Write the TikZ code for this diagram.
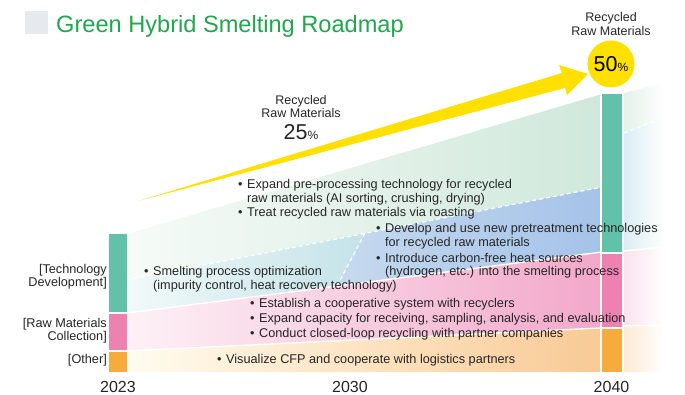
\documentclass[tikz,border=0pt]{standalone}
\usepackage{fontspec}
\setmainfont{Liberation Sans}
\usetikzlibrary{positioning}

\definecolor{txtgray}{HTML}{262626}
\definecolor{ttlgreen}{HTML}{1FA74C}
\definecolor{ttlbox}{HTML}{E6E9EE}
\definecolor{barteal}{HTML}{62C1A9}
\definecolor{barpink}{HTML}{ED82B1}
\definecolor{barorange}{HTML}{F6AC3C}
\definecolor{arrowyel}{HTML}{FFE000}
\definecolor{grnL}{HTML}{F6FBF8}
\definecolor{grnR}{HTML}{D0E8DB}
\definecolor{cyaL}{HTML}{F2F9FA}
\definecolor{cyaR}{HTML}{C3E3E8}
\definecolor{bluL}{HTML}{C6D9EF}
\definecolor{bluR}{HTML}{A5C3E8}
\definecolor{pnkL}{HTML}{FDF1F6}
\definecolor{pnkR}{HTML}{F2A8CA}
\definecolor{orgL}{HTML}{FFFCEF}
\definecolor{orgR}{HTML}{F8CA95}
\definecolor{grnX}{HTML}{E4F1EA}
\definecolor{bluX}{HTML}{DAEDF5}
\definecolor{pnkX}{HTML}{FBE2EE}
\definecolor{orgX}{HTML}{FDEAD4}

\newcommand{\bulletitem}[1]{\textbullet\hspace{4.5pt}\begin{tabular}[t]{@{}l@{}}#1\end{tabular}}

\begin{document}
\begin{tikzpicture}[x=1pt,y=-1pt,
    lbl/.style={font=\fontsize{12.7}{12.7}\selectfont, text=txtgray, inner sep=0pt},
    itemtxt/.style={lbl, anchor=base west},
    yearlbl/.style={font=\fontsize{16}{16}\selectfont, text=txtgray, inner sep=0pt, anchor=base},
    sepline/.style={white, line width=1.4pt},
    dashsep/.style={white, line width=1.2pt, dash pattern=on 4pt off 3pt}]

    \useasboundingbox (0,0) rectangle (685,395);

    % title
    \fill[ttlbox] (25,11) rectangle (48,34);
    \node[anchor=base west, inner sep=0pt, font=\fontsize{23.6}{24}\selectfont, text=ttlgreen] (title) at (56,33) {Green Hybrid Smelting Roadmap};

    % bands 2023 -> 2040
    \shade[left color=grnL, right color=grnR] (127,234) -- (600,94.6) -- (600,187.4) -- (127,280) -- cycle;
    \shade[left color=cyaL, right color=cyaR] (127,280) -- (365,233) -- (337,286) -- (127,313) -- cycle;
    \shade[left color=bluL, right color=bluR] (365,233) -- (600,187.4) -- (600,252.3) -- (337,286) -- cycle;
    \shade[left color=pnkL, right color=pnkR] (127,313) -- (600,252.3) -- (600,328) -- (127,351) -- cycle;
    \shade[left color=orgL, right color=orgR] (127,351) -- (600,328) -- (600,372) -- (127,372) -- cycle;
    \draw[dashsep] (127,280) -- (600,187.4);
    \draw[dashsep] (365,233) -- (337,286);
    \draw[sepline] (127,313) -- (600,252.3);
    \draw[sepline] (127,351) -- (600,328);

    % after 2040
    \shade[left color=grnX, right color=white] (624,93) -- (664,83) -- (664,117) -- (624,133) -- cycle;
    \shade[left color=bluX, right color=white] (624,133) -- (664,117) -- (664,247) -- (624,251) -- cycle;
    \shade[left color=pnkX, right color=white] (624,251) -- (664,247) -- (664,325) -- (624,326) -- cycle;
    \shade[left color=orgX, right color=white] (624,326) -- (664,325) -- (664,372) -- (624,372) -- cycle;
    \draw[dashsep] (624,133) -- (664,117);
    \draw[sepline] (624,251) -- (664,247);
    \draw[sepline] (624,326) -- (664,325);

    % bars
    \fill[barteal] (109,234) rectangle (127,312);
    \fill[barpink] (109,314) rectangle (127,350);
    \fill[barorange] (109,352) rectangle (127,372);
    \fill[barteal] (602,94) rectangle (622,252);
    \fill[barpink] (602,254) rectangle (622,327);
    \fill[barorange] (602,329) rectangle (622,372);

    % yellow arrow
    \fill[arrowyel] (138,201) -- (562,73) -- (559,65) -- (588,74) -- (567,95) -- (565,88) -- cycle;
    \node[circle, fill=arrowyel, minimum size=47pt, inner sep=0pt] (pc50) at (611,64)
        {{\fontsize{21.5}{21.5}\selectfont 50}{\fontsize{12}{12}\selectfont\%}};
    \node[lbl, align=center, font=\fontsize{12.5}{14}\selectfont, above=4pt of pc50] (rec50) {Recycled\\Raw Materials};

    \node[lbl, align=center, font=\fontsize{12.5}{13}\selectfont] (rec25) at (301,106.5) {Recycled\\Raw Materials};
    \node[inner sep=0pt, anchor=base, text=txtgray] (pc25) at (301,139.5)
        {{\fontsize{21.5}{21.5}\selectfont 25}{\fontsize{12}{12}\selectfont\%}};

    % row labels
    \node[lbl, align=right, anchor=east] (techlbl) at (107,276.5) {[Technology\\Development]};
    \node[lbl, align=right, anchor=east] (rawlbl) at (107,331) {[Raw Materials\\Collection]};
    \node[lbl, align=right, anchor=east] (othlbl) at (107,360.7) {[Other]};

    % items
    \node[itemtxt] (prep) at (238,189) {\bulletitem{Expand pre-processing technology for recycled\\raw materials (AI sorting, crushing, drying)}};
    \node[itemtxt] (roast) at (238,217) {\bulletitem{Treat recycled raw materials via roasting}};
    \node[itemtxt] (pretr) at (376,233) {\bulletitem{Develop and use new pretreatment technologies\\for recycled raw materials}};
    \node[itemtxt] (heat) at (376,262) {\bulletitem{Introduce carbon-free heat sources\\(hydrogen, etc.) into the smelting process}};
    \node[itemtxt] (smelt) at (144,276) {\bulletitem{Smelting process optimization\\(impurity control, heat recovery technology)}};
    \node[itemtxt] (coop) at (250,307) {\bulletitem{Establish a cooperative system with recyclers}};
    \node[itemtxt] (capa) at (250,322) {\bulletitem{Expand capacity for receiving, sampling, analysis, and evaluation}};
    \node[itemtxt] (loop) at (250,337.5) {\bulletitem{Conduct closed-loop recycling with partner companies}};
    \node[itemtxt] (cfp) at (217,363) {\bulletitem{Visualize CFP and cooperate with logistics partners}};

    % years
    \node[yearlbl] (y2023) at (118,392.5) {2023};
    \node[yearlbl] (y2030) at (350,392.5) {2030};
    \node[yearlbl] (y2040) at (611.5,392.5) {2040};
\end{tikzpicture}
\end{document}
